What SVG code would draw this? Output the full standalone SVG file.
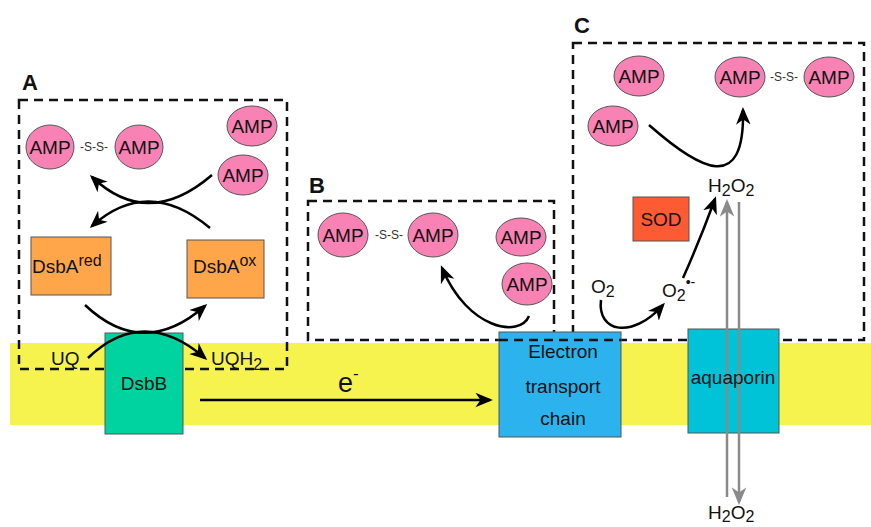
<svg xmlns="http://www.w3.org/2000/svg" width="871" height="527" viewBox="0 0 871 527">
<defs>
<style>
text{font-family:"Liberation Sans",Arial,sans-serif;fill:#111;}
.lbl{font-size:19px;}
.amp ellipse{fill:#f982b4;stroke:#555;stroke-width:1;}
.amp text{font-size:19px;text-anchor:middle;}
.ss{font-size:12px;fill:#333;text-anchor:middle;}
.dash{fill:none;stroke:#111;stroke-width:2.5;stroke-dasharray:9 6;}
.box{stroke:#555;stroke-width:1;}
.arr{fill:none;stroke:#000;stroke-width:2.5;marker-end:url(#ah);}
.garr{fill:none;stroke:#8a8a8a;stroke-width:2.5;marker-end:url(#gh);}
.big{font-size:22px;font-weight:bold;}
</style>
<marker id="ah" viewBox="0 0 12 10" refX="10" refY="5" markerWidth="7" markerHeight="6" orient="auto" markerUnits="strokeWidth">
<path d="M0,0 L12,5 L0,10 L3.5,5 z" fill="#000"/>
</marker>
<marker id="gh" viewBox="0 0 12 10" refX="10" refY="5" markerWidth="7" markerHeight="6" orient="auto" markerUnits="strokeWidth">
<path d="M0,0 L12,5 L0,10 L3.5,5 z" fill="#8a8a8a"/>
</marker>
</defs>
<rect width="871" height="527" fill="#fff"/>
<g id="membrane"><rect x="10" y="343" width="861" height="82" fill="#f6f34f"/></g>

<g id="panel-A">
<text class="big" x="22" y="90">A</text>
<rect class="dash" x="19" y="100" width="268" height="269"/>
</g>
<g id="panel-B">
<text class="big" x="309" y="193">B</text>
<rect class="dash" x="308" y="201" width="246" height="139"/>
</g>
<g id="panel-C">
<text class="big" x="574" y="33">C</text>
<rect class="dash" x="573" y="43" width="291" height="297"/>
</g>

<g id="dsbB"><rect class="box" x="105" y="333" width="78" height="101" fill="#00d3a0"/><text class="lbl" x="144" y="390" text-anchor="middle">DsbB</text></g>
<g id="etc"><rect class="box" x="499" y="332" width="122" height="105" fill="#2cb3ee"/>
<text class="lbl" x="563" y="358" text-anchor="middle">Electron</text>
<text class="lbl" x="563" y="393" text-anchor="middle">transport</text>
<text class="lbl" x="563" y="425" text-anchor="middle">chain</text></g>
<g id="etc-dash"><line class="dash" x1="499" y1="340" x2="621" y2="340"/></g>
<g id="aquaporin"><rect class="box" x="688" y="329" width="91" height="104" fill="#00c3d8"/></g>

<g id="dsbA-red"><rect class="box" x="31" y="237" width="80" height="58" fill="#ffa64b"/><text class="lbl" x="32" y="273">DsbA<tspan font-size="16" dy="-7">red</tspan></text></g>
<g id="dsbA-ox"><rect class="box" x="187" y="240" width="77" height="58" fill="#ffa64b"/><text class="lbl" x="193" y="273">DsbA<tspan font-size="16" dy="-7">ox</tspan></text></g>
<g id="sod"><rect class="box" x="633" y="197" width="56" height="44" fill="#fe5a33"/><text class="lbl" x="661" y="226" text-anchor="middle">SOD</text></g>

<g id="amp-A" class="amp">
<ellipse cx="50" cy="147" rx="24" ry="22"/><text x="50" y="154">AMP</text>
<ellipse cx="139" cy="147" rx="24" ry="22"/><text x="139" y="154">AMP</text>
<ellipse cx="252" cy="126" rx="25" ry="20"/><text x="252" y="133">AMP</text>
<ellipse cx="243" cy="175" rx="25" ry="20"/><text x="243" y="182">AMP</text>
</g>
<text class="ss" x="94" y="151">-S-S-</text>
<g id="amp-B" class="amp">
<ellipse cx="343" cy="235" rx="25" ry="22"/><text x="343" y="242">AMP</text>
<ellipse cx="433" cy="235" rx="25" ry="22"/><text x="433" y="242">AMP</text>
<ellipse cx="521" cy="237" rx="25" ry="19"/><text x="521" y="244">AMP</text>
<ellipse cx="527" cy="284" rx="25" ry="21"/><text x="527" y="291">AMP</text>
</g>
<text class="ss" x="389" y="239">-S-S-</text>
<g id="amp-C" class="amp">
<ellipse cx="639" cy="76" rx="25" ry="20"/><text x="639" y="83">AMP</text>
<ellipse cx="613" cy="126" rx="25" ry="20"/><text x="613" y="133">AMP</text>
<ellipse cx="740" cy="77" rx="25" ry="20"/><text x="740" y="84">AMP</text>
<ellipse cx="829" cy="77" rx="25" ry="20"/><text x="829" y="84">AMP</text>
</g>
<text class="ss" x="784" y="81">-S-S-</text>

<g id="labels">
<text class="lbl" x="51" y="365">UQ</text>
<text class="lbl" x="211" y="365">UQH<tspan font-size="16" dy="5">2</tspan></text>
<text x="338" y="392" font-size="27">e<tspan font-size="17" dy="-13">-</tspan></text>
<text class="lbl" x="708" y="192">H<tspan font-size="16" dy="4">2</tspan><tspan dy="-4">O</tspan><tspan font-size="16" dy="4">2</tspan></text>
<text class="lbl" x="591" y="293">O<tspan font-size="16" dy="4">2</tspan></text>
<text class="lbl" x="662" y="297">O<tspan font-size="16" dy="4">2</tspan><tspan font-size="14" dy="-14">•-</tspan></text>
<text class="lbl" x="708" y="519">H<tspan font-size="16" dy="3">2</tspan><tspan dy="-3">O</tspan><tspan font-size="16" dy="3">2</tspan></text>
</g>

<g id="connectors">
<path class="arr" d="M212,175 Q148,230 92,177"/>
<path class="arr" d="M210,228 Q148,176 92,226"/>
<path class="arr" d="M85,305 Q143,360 205,306"/>
<path class="arr" d="M88,358 Q143,305 205,358"/>
<path class="arr" d="M200,400 L490,400"/>
<path class="arr" d="M529,316 C520,338 468,330 442,268"/>
<path class="arr" d="M649,125 C700,170 745,195 743,110"/>
<path class="arr" d="M601,300 C597,332 632,340 663,305"/>
<path class="arr" d="M683,278 Q700,240 715,199"/>
<path class="garr" d="M727,497 L727,202"/>
<path class="garr" d="M739,202 L739,502"/>
</g>
<g id="aquaporin-label"><text class="lbl" x="733" y="384" text-anchor="middle">aquaporin</text></g>
</svg>
